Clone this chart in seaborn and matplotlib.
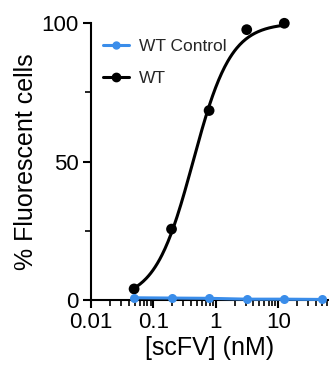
import numpy as np
import pandas as pd
import matplotlib
matplotlib.use("Agg")
import matplotlib.pyplot as plt
import seaborn as sns
from matplotlib.lines import Line2D

# 4-fold dilution series of scFV (nM)
conc = [0.049, 0.195, 0.78, 3.125, 12.5, 50.0]
wt = [4.0, 25.6, 68.4, 97.6, 99.9]
wt_control = [0.8, 0.7, 0.6, 0.3, 0.3, 0.2]

df_wt = pd.DataFrame({"conc": conc[:5], "pct": wt})
df_ctrl = pd.DataFrame({"conc": conc, "pct": wt_control})

# simple hill fit (top=100, bottom=0) by grid search
lx = np.log10(df_wt["conc"].values)
best = None
for ec in np.linspace(-1.0, 0.5, 301):
    for h in np.linspace(0.5, 3.0, 251):
        pred = 100 / (1 + 10 ** ((ec - lx) * h))
        err = np.sum((pred - df_wt["pct"].values) ** 2)
        if best is None or err < best[0]:
            best = (err, ec, h)
_, log_ec50, hill = best
xs = np.logspace(lx.min(), lx.max(), 200)
fit = pd.DataFrame({"conc": xs,
                    "pct": 100 / (1 + 10 ** ((log_ec50 - np.log10(xs)) * hill))})

sns.set_style("ticks")
plt.rcParams["font.family"] = ["Liberation Sans", "DejaVu Sans"]

fig = plt.figure(figsize=(3.29, 3.67), dpi=100)
ax = fig.add_axes([91 / 329, 1 - 300 / 367, 1 - 91 / 329, 277 / 367])

blue = "#3a8dea"
sns.lineplot(data=fit, x="conc", y="pct", color="black", linewidth=2.2, ax=ax)
sns.scatterplot(data=df_wt, x="conc", y="pct", color="black", s=60,
                edgecolor="none", ax=ax, clip_on=False, zorder=3)
sns.lineplot(data=df_ctrl, x="conc", y="pct", color=blue, linewidth=2.2,
             marker="o", markersize=6.5, markeredgewidth=0, ax=ax,
             clip_on=False, zorder=4)

ax.set_xscale("log")
ax.set_xlim(0.01, 65)
ax.set_ylim(0, 100)
ax.set_yticks([0, 50, 100])
ax.set_yticks([25, 75], minor=True)
ax.set_xticks([0.01, 0.1, 1, 10])
ax.set_xticklabels(["0.01", "0.1", "1", "10"])
ax.tick_params(axis="both", which="major", labelsize=16, width=1.5, length=6,
               color="black", labelcolor="black", pad=3)
ax.tick_params(axis="both", which="minor", width=1.2, length=4, color="black")
for s in ["left", "bottom"]:
    ax.spines[s].set_linewidth(1.5)
    ax.spines[s].set_color("black")
sns.despine(ax=ax)
ax.set_xlabel("[scFV] (nM)", fontsize=18, color="black", labelpad=2)
ax.set_ylabel("% Fluorescent cells", fontsize=18, color="black", labelpad=2)

handles = [Line2D([], [], color=blue, lw=2.2, marker="o", markersize=5),
           Line2D([], [], color="black", lw=2.2, marker="o", markersize=6)]
ax.legend(handles, ["WT Control", "WT"], loc="upper left", frameon=False,
          fontsize=12.5, handlelength=1.55, handletextpad=0.55,
          labelspacing=1.0, bbox_to_anchor=(-0.017, 1.0))

fig.savefig("out.png", dpi=100)
